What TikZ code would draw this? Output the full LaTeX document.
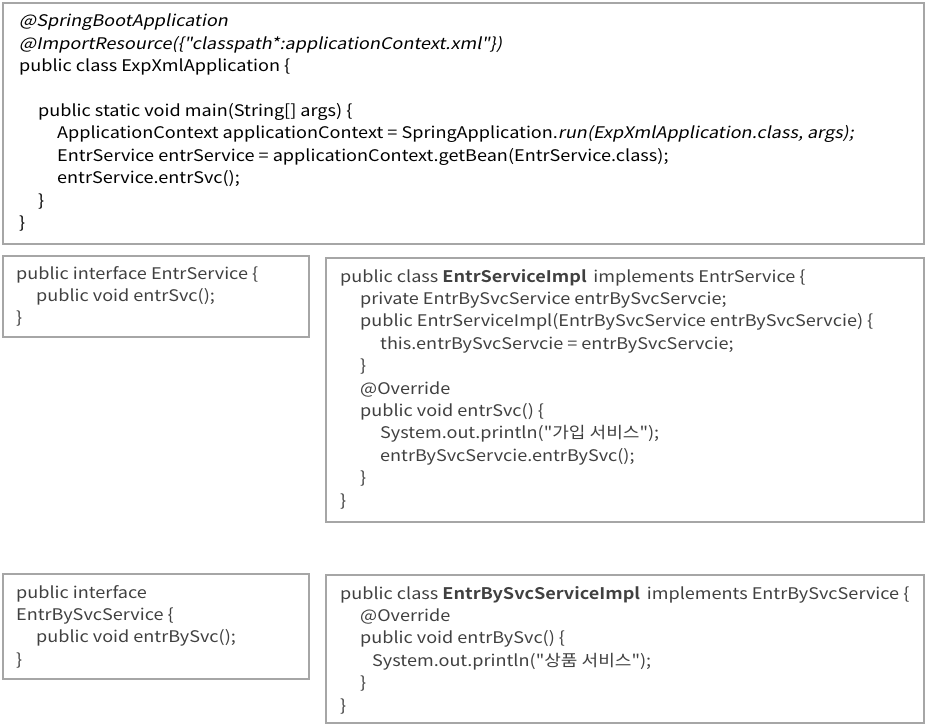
\documentclass[tikz,border=0pt]{standalone}
\usepackage{fontspec}
\setmainfont{Noto Sans CJK KR}[Ligatures=TeXOff, FakeStretch=1.13, ItalicFont={Noto Sans CJK KR}, ItalicFeatures={FakeSlant=0.2}, BoldFont={Noto Sans CJK KR Bold}]
\usetikzlibrary{positioning}

\definecolor{framegray}{HTML}{A6A6A6}
\definecolor{codegray}{HTML}{404040}

\tikzset{
  frame/.style={draw=framegray, line width=2pt, rectangle, inner sep=0pt, anchor=north west},
  code/.style={inner sep=0pt, align=left, anchor=north west, font=\fontsize{16pt}{22.4pt}\selectfont}
}

\begin{document}
\begin{tikzpicture}[x=1pt, y=-1pt]
\useasboundingbox (0,0) rectangle (926,727);

% frames
\node[frame, minimum width=921pt, minimum height=241pt] (appbox) at (2,2) {};
\node[frame, minimum width=306pt, minimum height=81pt] (svcbox) at (2,255) {};
\node[frame, minimum width=598pt, minimum height=264pt] (implbox) at (325,257) {};
\node[frame, minimum width=306pt, minimum height=105pt] (bysvcbox) at (2,573) {};
\node[frame, minimum width=598pt, minimum height=148pt] (bysvcimplbox) at (325,574) {};

% code
\node[code, below right=12pt and 17pt of appbox.north west] (apptext) {%
\textit{@SpringBootApplication}\\
\textit{@ImportResource(\{"classpath*:applicationContext.xml"\})}\\
public class ExpXmlApplication \{\\
\\
\hspace*{19pt}public static void main(String[] args) \{\\
\hspace*{38pt}ApplicationContext applicationContext = SpringApplication.\textit{run(ExpXmlApplication.class, args);}\\
\hspace*{38pt}EntrService entrService = applicationContext.getBean(EntrService.class);\\
\hspace*{38pt}entrService.entrSvc();\\
\hspace*{19pt}\}\\
\}};

\node[code, text=codegray, below right=11pt and 14pt of svcbox.north west] (svctext) {%
public interface EntrService \{\\
\hspace*{20pt}public void entrSvc();\\
\}};

\node[code, text=codegray, below right=12pt and 15pt of implbox.north west] (impltext) {%
public class \textbf{EntrServiceImpl}\, implements EntrService \{\\
\hspace*{20pt}private EntrBySvcService entrBySvcServcie;\\
\hspace*{20pt}public EntrServiceImpl(EntrBySvcService entrBySvcServcie) \{\\
\hspace*{40pt}this.entrBySvcServcie = entrBySvcServcie;\\
\hspace*{20pt}\}\\
\hspace*{20pt}@Override\\
\hspace*{20pt}public void entrSvc() \{\\
\hspace*{40pt}System.out.println("가입 서비스");\\
\hspace*{40pt}entrBySvcServcie.entrBySvc();\\
\hspace*{20pt}\}\\
\}};

\node[code, text=codegray, below right=12pt and 14pt of bysvcbox.north west] (bysvctext) {%
public interface\\
EntrBySvcService \{\\
\hspace*{20pt}public void entrBySvc();\\
\}};

\node[code, text=codegray, below right=12pt and 15pt of bysvcimplbox.north west] (bysvcimpltext) {%
public class \textbf{EntrBySvcServiceImpl}\, implements EntrBySvcService \{\\
\hspace*{20pt}@Override\\
\hspace*{20pt}public void entrBySvc() \{\\
\hspace*{32pt}System.out.println("상품 서비스");\\
\hspace*{20pt}\}\\
\}};

\end{tikzpicture}
\end{document}
